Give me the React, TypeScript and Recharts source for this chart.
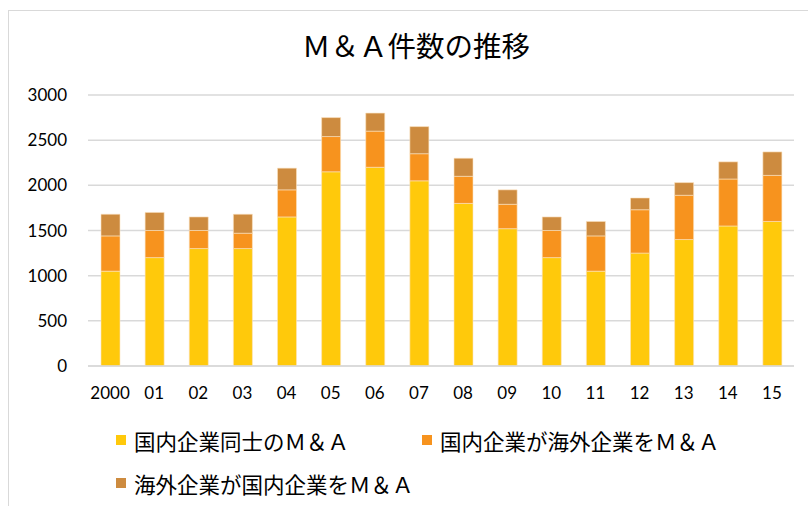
import { BarChart, Bar, XAxis, YAxis, CartesianGrid } from "recharts";

const years = ["2000", "01", "02", "03", "04", "05", "06", "07", "08", "09", "10", "11", "12", "13", "14", "15"];
const domestic = [1050, 1200, 1300, 1300, 1650, 2150, 2200, 2050, 1800, 1520, 1200, 1050, 1250, 1400, 1550, 1600];
const outbound = [390, 300, 200, 170, 300, 390, 400, 300, 300, 270, 300, 390, 480, 490, 520, 510];
const inbound = [240, 200, 150, 210, 240, 210, 200, 300, 200, 160, 150, 160, 130, 140, 190, 260];
const yTicks = [0, 500, 1000, 1500, 2000, 2500, 3000];

const series = [
  { key: "domestic", name: "国内企業同士のＭ＆Ａ", color: "#FFC90B" },
  { key: "outbound", name: "国内企業が海外企業をＭ＆Ａ", color: "#F7931E" },
  { key: "inbound", name: "海外企業が国内企業をＭ＆Ａ", color: "#CD8B3F" }
];

const data = years.map((y, i) => ({
  year: y,
  domestic: domestic[i],
  outbound: outbound[i],
  inbound: inbound[i]
}));

const jp = "'Noto Sans CJK JP', sans-serif";
const num = "Lato, 'Noto Sans', sans-serif";

export default function App() {
  return (
    <div style={{ position: "absolute", left: 0, top: 0, width: 808, height: 506, background: "#fff", overflow: "hidden" }}>
      <div style={{ position: "absolute", left: 8, top: 10, width: 820, height: 520, border: "1px solid #d9d9d9" }} />
      <div style={{ position: "absolute", left: 12, top: 27, width: 808, textAlign: "center", fontFamily: jp, fontSize: 28.5, lineHeight: "36px", color: "#000" }}>
        Ｍ＆Ａ件数の推移
      </div>
      <div style={{ position: "absolute", left: 0, top: 0 }}>
        <BarChart width={808} height={506} data={data} margin={{ top: 95, right: 14, left: 0, bottom: 110 }} barSize={19}>
          <CartesianGrid vertical={false} stroke="#d9d9d9" strokeWidth={1.5} />
          <XAxis dataKey="year" height={30} tickLine={false} axisLine={{ stroke: "#d9d9d9", strokeWidth: 1.5 }} tickSize={0} tickMargin={21} interval={0}
            tick={{ fill: "#000", fontSize: 17, fontFamily: num }} />
          <YAxis width={88} domain={[0, 3000]} ticks={yTicks} tickLine={false} axisLine={false} tickSize={0} tickMargin={21}
            tick={{ fill: "#000", fontSize: 17, fontFamily: num }} />
          {series.map((s) => (
            <Bar key={s.key} dataKey={s.key} name={s.name} stackId="a" fill={s.color} stroke="#fbe3c0" strokeWidth={0.6} isAnimationActive={false} />
          ))}
        </BarChart>
      </div>
      <div style={{ position: "absolute", left: 116, top: 425, width: 680, fontFamily: jp, fontSize: 21.5, color: "#000" }}>
        {series.map((s, i) => (
          <div key={s.key} style={{ position: "absolute", left: i === 1 ? 306 : 0, top: i === 2 ? 43 : 0, display: "flex", alignItems: "center", height: 30, whiteSpace: "nowrap" }}>
            <span style={{ display: "inline-block", width: 10, height: 10, background: s.color, marginRight: 8 }} />
            <span>{s.name}</span>
          </div>
        ))}
      </div>
    </div>
  );
}
